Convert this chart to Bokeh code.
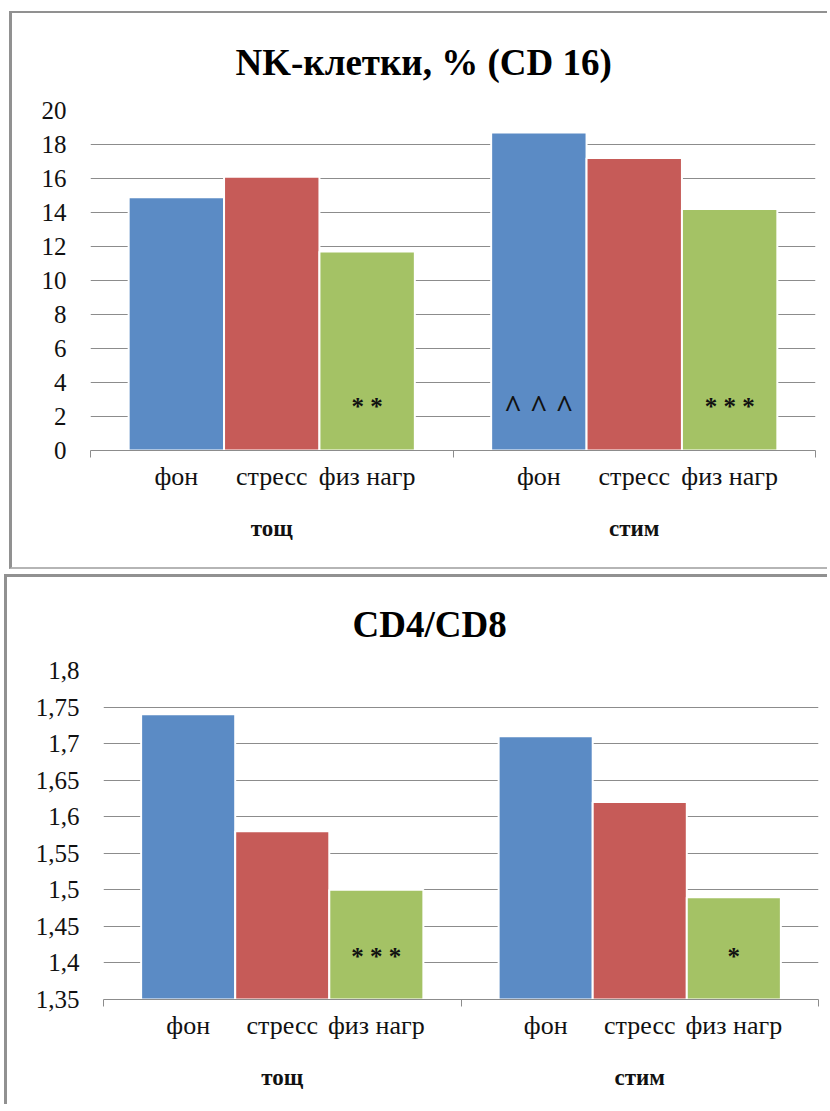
from bokeh.plotting import figure
from bokeh.models import (FactorRange, Range1d, LinearAxis, CategoricalAxis,
                          FixedTicker, CustomJSTickFormatter, ColumnDataSource)
from bokeh.layouts import column
from bokeh.embed import file_html
from bokeh.resources import INLINE
from bokeh.core.properties import value

# --- data -------------------------------------------------------------------
groups = ["тощ", "стим"]
conditions = ["фон", "стресс", "физ нагр"]
bar_colors = ["#5B8BC5", "#C65B58", "#A4C265"]

nk_title = "NK-клетки, % (CD 16)"
nk_values = [14.9, 16.1, 11.7, 18.7, 17.2, 14.2]
nk_marks = ["", "", "* *", "^ ^ ^", "", "* * *"]
nk_ticks = [0, 2, 4, 6, 8, 10, 12, 14, 16, 18, 20]

cd_title = "CD4/CD8"
cd_values = [1.74, 1.58, 1.50, 1.71, 1.62, 1.49]
cd_marks = ["", "", "* * *", "", "", "*"]
cd_ticks = [1.35, 1.4, 1.45, 1.5, 1.55, 1.6, 1.65, 1.7, 1.75, 1.8]

SERIF = "Liberation Serif"
GRID = "#8C8C8C"
BORDER = "#919191"
PAD = 0.4  # half of the gap between the two groups, in factor units


def make_chart(title, values, marks, ticks, width, height, borders,
               title_left, title_standoff):
    factors = [(g, c) for g in groups for c in conditions]
    n = len(conditions)
    ymin, ymax = ticks[0], ticks[-1]
    x_range = FactorRange(*factors, factor_padding=0, group_padding=2 * PAD,
                          range_padding=PAD, range_padding_units="absolute")
    p = figure(x_range=x_range, y_range=Range1d(ymin, ymax),
               width=width, height=height, output_backend="svg",
               toolbar_location=None, x_axis_location=None,
               min_border_left=borders[0], min_border_right=borders[1],
               min_border_top=borders[2], min_border_bottom=borders[3])
    # each chart keeps its own frame position inside the column
    if "frame_align" in p.properties():
        p.frame_align = False
    p.extra_x_ranges = {"grp": x_range}
    p.outline_line_color = None
    p.background_fill_color = "white"
    p.border_fill_color = "white"

    p.title.text = title
    p.title.align = "left"
    p.title.vertical_align = "top"
    p.title.offset = title_left
    p.title.text_font = SERIF
    p.title.text_font_size = "37px"
    p.title.text_font_style = "bold"
    p.title.text_color = "#000000"
    p.title.standoff = title_standoff

    src = ColumnDataSource(dict(
        x=factors, top=values,
        color=[bar_colors[i % 3] for i in range(len(factors))]))
    p.vbar(x="x", top="top", bottom=ymin, width=1.0, source=src,
           fill_color="color", line_color="white", line_width=2)

    # significance marks inside the bars
    mx = [f for f, m in zip(factors, marks) if m]
    mt = [m for m in marks if m]
    msrc = ColumnDataSource(dict(
        x=mx, y=[ymin + 0.13 * (ymax - ymin)] * len(mt), text=mt,
        size=["31px" if "^" in m else "25px" for m in mt]))
    p.text(x="x", y="y", text="text", source=msrc, text_align="center",
           text_baseline="middle", text_font=value(SERIF),
           text_font_size="size", text_font_style="bold",
           text_color="#111111")

    # y axis: labels only, decimal comma
    yax = p.yaxis[0]
    yax.ticker = FixedTicker(ticks=ticks)
    yax.formatter = CustomJSTickFormatter(
        code="return (Math.round(tick*100)/100).toString().replace('.', ',');")
    yax.axis_line_color = None
    yax.major_tick_line_color = None
    yax.minor_tick_line_color = None
    yax.major_tick_out = 0
    yax.major_tick_in = 0
    yax.major_label_standoff = 24
    yax.major_label_text_font = SERIF
    yax.major_label_text_font_size = "25px"
    yax.major_label_text_color = "#111111"

    p.ygrid.ticker = FixedTicker(ticks=ticks)
    p.ygrid.grid_line_color = GRID
    p.xgrid.grid_line_color = None

    # baseline with tick marks at the group boundaries (synthetic coords)
    edge = LinearAxis(ticker=FixedTicker(ticks=[-PAD, n + PAD, 2 * n + 3 * PAD]),
                      formatter=CustomJSTickFormatter(code="return '';"))
    edge.axis_line_color = GRID
    edge.major_tick_line_color = GRID
    edge.major_tick_out = 7
    edge.major_tick_in = 0
    edge.minor_tick_line_color = None
    edge.major_label_standoff = 0
    edge.major_label_text_font_size = "1px"
    p.add_layout(edge, "below")

    # condition labels
    sub = CategoricalAxis()
    sub.axis_line_color = None
    sub.major_tick_line_color = None
    sub.major_tick_out = 0
    sub.major_tick_in = 0
    sub.separator_line_color = None
    sub.major_label_standoff = 4
    sub.major_label_text_font = SERIF
    sub.major_label_text_font_size = "26px"
    sub.major_label_text_color = "#111111"
    sub.group_text_font_size = "1px"
    sub.group_text_color = None
    p.add_layout(sub, "below")

    # group labels
    grp = CategoricalAxis(x_range_name="grp")
    grp.axis_line_color = None
    grp.major_tick_line_color = None
    grp.major_tick_out = 0
    grp.major_tick_in = 0
    grp.separator_line_color = None
    grp.major_label_standoff = 22
    grp.major_label_text_font_size = "1px"
    grp.major_label_text_color = None
    grp.group_text_font = SERIF
    grp.group_text_font_size = "23px"
    grp.group_text_font_style = "bold"
    grp.group_text_color = "#111111"
    p.add_layout(grp, "below")
    return p


p1 = make_chart(nk_title, nk_values, nk_marks, nk_ticks,
                width=818, height=558, borders=(78, 15, 97, 121),
                title_left=145, title_standoff=52)
p1.styles = {"border-top": f"2px solid {BORDER}",
             "border-left": f"3px solid {BORDER}",
             "border-bottom": "2px solid #B5B5B5"}
p1.margin = (11, 0, 0, 9)

p2 = make_chart(cd_title, cd_values, cd_marks, cd_ticks,
                width=823, height=530, borders=(96, 12, 93, 108),
                title_left=249, title_standoff=48)
p2.styles = {"border-top": f"3px solid {BORDER}",
             "border-left": f"3px solid {BORDER}"}
p2.margin = (5, 0, 0, 4)

layout = column(p1, p2)

with open("out.html", "w") as f:
    f.write(file_html(layout, INLINE))
